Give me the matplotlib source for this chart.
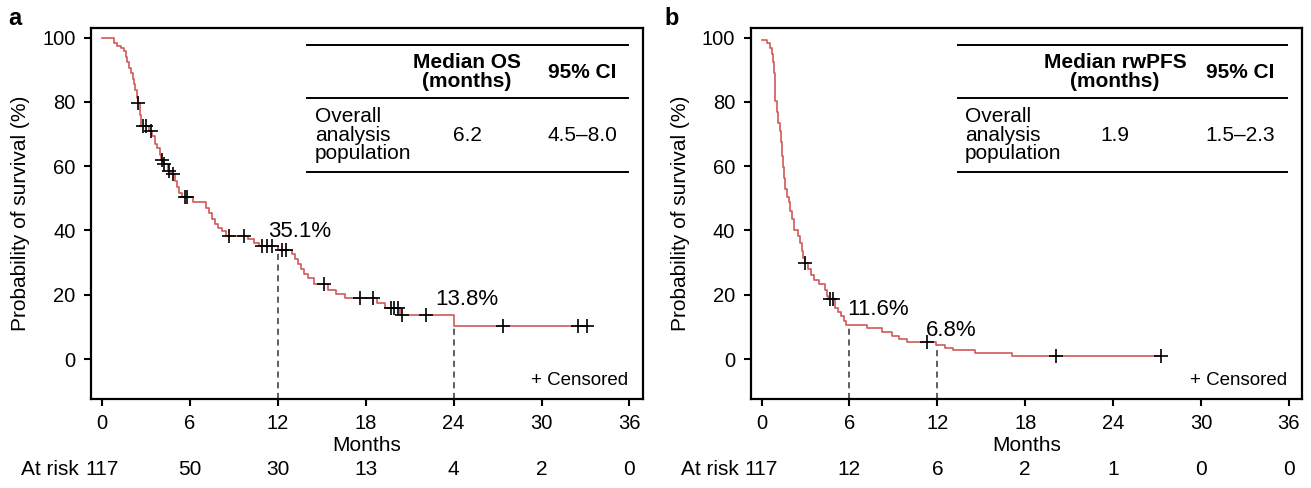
import matplotlib
matplotlib.use('Agg')
from matplotlib import pyplot as plt
import numpy as np

plt.rcParams['font.family'] = ['Liberation Sans', 'DejaVu Sans']
plt.rcParams['font.size'] = 15

# panel a: overall survival (KM steps)
os_times = [0, 0.85, 1.05, 1.3, 1.5, 1.65, 1.75, 1.85, 2.0, 2.1, 2.2, 2.3, 2.4, 2.45,
            2.6, 2.7, 3.2, 3.45, 3.65, 3.8, 3.95, 4.05, 4.15, 4.5, 4.75, 5.0, 5.15,
            5.3, 5.5, 6.2, 7.1, 7.3, 7.55, 7.7, 7.9, 8.2, 8.5, 10.0, 10.4, 10.7,
            12.05, 13.0, 13.2, 13.4, 13.6, 13.8, 14.1, 14.5, 15.45, 16.0, 16.6,
            18.8, 19.3, 20.35, 24.0]
os_surv = [100, 98.3, 97.4, 96.6, 95.7, 94.0, 92.3, 90.6, 88.9, 87.2, 85.5, 83.8, 81.2, 79.5,
           76.0, 72.6, 71.0, 69.5, 67.0, 65.5, 63.5, 62.0, 60.8, 58.5, 57.5, 55.5, 53.6,
           51.7, 50.5, 48.8, 47.0, 45.3, 43.6, 41.9, 40.8, 39.7, 38.4, 37.2, 36.1, 35.1,
           34.0, 32.6, 31.1, 29.6, 28.1, 26.6, 25.1, 23.5, 21.6, 20.3, 19.0,
           17.4, 15.9, 13.8, 10.35]
os_end = 33.2
os_censor = [2.5, 2.8, 3.05, 3.35, 4.1, 4.25, 4.6, 4.85, 5.7, 5.8, 8.7, 9.7, 10.9, 11.3,
             11.6, 12.3, 12.6, 15.15, 17.6, 18.5, 19.7, 19.95, 20.2, 20.45, 22.1, 27.4,
             32.5, 33.1]
os_marks = [12, 24]
os_labels = ['35.1%', '13.8%']
os_label_pos = [(13.5, 39.8), (24.9, 18.4)]
os_risk = [117, 50, 30, 13, 4, 2, 0]

# panel b: real-world PFS
pfs_times = [0, 0.35, 0.55, 0.7, 0.78, 0.85, 0.9, 0.95, 1.05, 1.12, 1.25, 1.35, 1.42,
             1.48, 1.55, 1.62, 1.75, 1.85, 1.95, 2.05, 2.2, 2.5, 2.65, 2.75, 2.85,
             2.95, 3.2, 3.35, 3.6, 3.9, 4.3, 4.45, 4.55, 5.0, 5.2, 5.4, 5.6, 5.8,
             7.2, 8.2, 8.9, 9.4, 9.9, 11.9, 12.5, 13.1, 14.6, 17.1]
pfs_surv = [99.1, 98.3, 96.6, 94.9, 92.3, 88.9, 85.5, 80.3, 76.9, 73.5, 70.9, 67.5, 63.2,
            59.8, 56.4, 53.0, 50.4, 48.7, 46.1, 43.5, 40.0, 38.3, 36.0, 33.5, 31.5,
            29.8, 27.9, 26.0, 24.5, 23.4, 21.5, 19.5, 18.6, 16.0, 14.6, 13.3, 12.0, 10.6,
            9.6, 8.5, 7.3, 6.3, 5.3, 4.4, 3.5, 2.7, 1.8, 0.9]
pfs_end = 27.3
pfs_censor = [3.0, 4.65, 4.85, 11.3, 20.1, 27.3]
pfs_marks = [6, 12]
pfs_labels = ['11.6%', '6.8%']
pfs_label_pos = [(7.95, 15.3), (12.95, 9.0)]
pfs_risk = [117, 12, 6, 2, 1, 0, 0]

xticks = [0, 6, 12, 18, 24, 30, 36]
yticks = [0, 20, 40, 60, 80, 100]

curve_color = '#d05a5a'


def step_value(times, surv, t):
    i = np.searchsorted(times, t, side='right') - 1
    return surv[i]


def km_panel(ax, times, surv, end, censor, marks, labels, label_pos, risk,
             head, value, ci, tab_x):
    times = np.array(times)
    surv = np.array(surv)
    ax.step(np.append(times, end), np.append(surv, surv[-1]), where='post',
            color=curve_color, lw=1.2, zorder=3)
    cy = [step_value(times, surv, t) for t in censor]
    ax.plot(censor, cy, ls='none', marker='+', ms=10, mew=1.2, color='black', zorder=4)

    for m, lab, pos in zip(marks, labels, label_pos):
        top = step_value(times, surv, m)
        ax.plot([m, m], [-12.4, top], ls=(0, (4, 3)), color='#333333', lw=1.1, zorder=2)
        ax.text(pos[0], pos[1], lab, ha='center', va='center', fontsize=16)

    ax.set_xlim(-0.75, 36.9)
    ax.set_ylim(-12.4, 102.8)
    ax.set_xticks(xticks)
    ax.set_yticks(yticks)
    ax.tick_params(direction='out', length=5, width=1.5, pad=6, labelsize=14.5)
    for s in ax.spines.values():
        s.set_linewidth(1.6)
    ax.set_xlabel('Months', labelpad=2)
    ax.set_ylabel('Probability of survival (%)')
    ax.yaxis.set_label_coords(-0.11, 0.5)

    # number at risk
    tr = ax.get_xaxis_transform()
    ax.text(-1.55, -0.19, 'At risk', transform=tr, ha='right', va='center', clip_on=False)
    for x, n in zip(xticks, risk):
        ax.text(x, -0.19, str(n), transform=tr, ha='center', va='center', clip_on=False)

    ax.text(0.973, 0.051, '+ Censored', transform=ax.transAxes, ha='right', va='center',
            fontsize=13.5)

    # median table
    ta = ax.transAxes
    for y in [0.955, 0.812, 0.613]:
        ax.plot([tab_x[0], 0.973], [y, y], color='black', lw=1.4, transform=ta)
    ax.text(tab_x[2], 0.882, head + '\n(months)', transform=ta, ha='center', va='center',
            fontweight='bold', linespacing=1.0)
    ax.text(tab_x[3], 0.882, '95% CI', transform=ta, ha='center', va='center',
            fontweight='bold')
    ax.text(tab_x[1], 0.712, 'Overall\nanalysis\npopulation', transform=ta, ha='left',
            va='center', linespacing=0.95)
    ax.text(tab_x[2], 0.712, value, transform=ta, ha='center', va='center')
    ax.text(tab_x[3], 0.712, ci, transform=ta, ha='center', va='center')


fig = plt.figure(figsize=(13.11, 4.88), dpi=100)
ax1 = fig.add_axes([0.0692, 0.1824, 0.421, 0.7592])
ax2 = fig.add_axes([0.5725, 0.1824, 0.4207, 0.7592])

km_panel(ax1, os_times, os_surv, os_end, os_censor, os_marks, os_labels, os_label_pos,
         os_risk, 'Median OS', '6.2', '4.5\u20138.0', (0.392, 0.406, 0.682, 0.890))
km_panel(ax2, pfs_times, pfs_surv, pfs_end, pfs_censor, pfs_marks, pfs_labels,
         pfs_label_pos, pfs_risk, 'Median rwPFS', '1.9', '1.5\u20132.3',
         (0.376, 0.389, 0.661, 0.888))

fig.text(0.0115, 0.962, 'a', fontsize=17, fontweight='bold', ha='center', va='center')
fig.text(0.5125, 0.962, 'b', fontsize=17, fontweight='bold', ha='center', va='center')

fig.savefig('out.png', dpi=100)
